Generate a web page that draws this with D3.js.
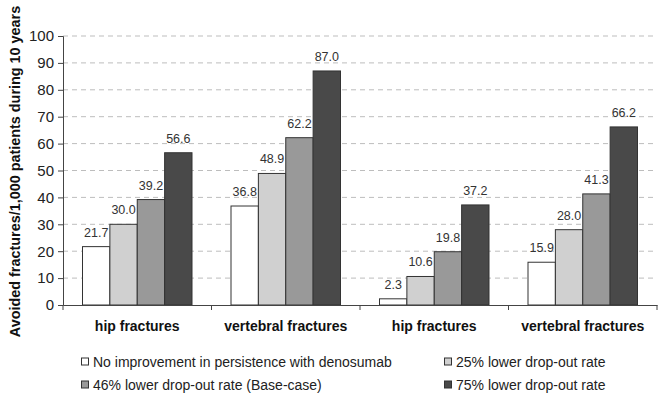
<!DOCTYPE html>
<html><head><meta charset="utf-8">
<script src="https://cdn.jsdelivr.net/npm/d3@7"></script>
<style>body{margin:0;background:#fff}svg{display:block}text{font-family:"Liberation Sans",Arial,sans-serif}</style>
</head><body><svg id="c" width="666" height="401"></svg>
<script>
const categories = ["hip fractures", "vertebral fractures", "hip fractures ", "vertebral fractures "];
const seriesNames = ["No improvement in persistence with denosumab", "25% lower drop-out rate", "46% lower drop-out rate (Base-case)", "75% lower drop-out rate"];
const noImprovement = [21.7, 36.8, 2.3, 15.9];
const lower25 = [30.0, 48.9, 10.6, 28.0];
const lower46 = [39.2, 62.2, 19.8, 41.3];
const lower75 = [56.6, 87.0, 37.2, 66.2];
const yTicks = [0, 10, 20, 30, 40, 50, 60, 70, 80, 90, 100];
const colors = ["#ffffff", "#d0d0d0", "#999999", "#494949"];
const yLabel = "Avoided fractures/1,000 patients during 10 years";

const series = [noImprovement, lower25, lower46, lower75];
const svg = d3.select("#c");
const m = {l: 63, r: 9, t: 36, b: 96};
const W = 666, H = 401;
const x0 = d3.scaleBand().domain(categories).range([m.l, W - m.r]).padding(0);
const pad = 19.5;
const x1 = d3.scaleBand().domain(d3.range(4)).range([pad, x0.bandwidth() - pad]).padding(0);
const y = d3.scaleLinear().domain([0, 100]).range([H - m.b, m.t]);

// gridlines
svg.append("g").selectAll("line").data(yTicks.filter(d => d > 0)).join("line")
  .attr("x1", m.l).attr("x2", W - m.r)
  .attr("y1", d => y(d)).attr("y2", d => y(d))
  .attr("stroke", "#bdbdbd").attr("stroke-dasharray", "5,4").attr("stroke-width", 1);

// y axis
const yAxis = d3.axisLeft(y).tickValues(yTicks).tickSize(5).tickPadding(4).tickFormat(d3.format("d"));
const gy = svg.append("g").attr("transform", `translate(${m.l},0)`).call(yAxis);
gy.select(".domain").attr("stroke", "#444");
gy.selectAll(".tick line").attr("stroke", "#444");
gy.selectAll("text").attr("font-size", 15).attr("fill", "#222");

// bars
const groups = svg.append("g").selectAll("g").data(categories).join("g")
  .attr("transform", d => `translate(${x0(d)},0)`);
groups.each(function(cat, ci) {
  const g = d3.select(this);
  series.forEach((s, si) => {
    g.append("rect")
      .attr("x", x1(si)).attr("width", x1.bandwidth())
      .attr("y", y(s[ci])).attr("height", y(0) - y(s[ci]))
      .attr("fill", colors[si]).attr("stroke", "#333").attr("stroke-width", 1);
    g.append("text")
      .attr("x", x1(si) + x1.bandwidth() / 2).attr("y", y(s[ci]) - 10)
      .attr("text-anchor", "middle").attr("font-size", 12.5).attr("fill", "#333")
      .text(s[ci].toFixed(1));
  });
});

// x axis
const xAxis = d3.axisBottom(x0).tickSize(0).tickFormat("");
const gx = svg.append("g").attr("transform", `translate(0,${y(0)})`).call(xAxis);
gx.select(".domain").attr("stroke", "#444");
const bounds = [m.l].concat(categories.map(c => x0(c) + x0.bandwidth()));
svg.append("g").selectAll("line").data(bounds).join("line")
  .attr("x1", d => d).attr("x2", d => d).attr("y1", y(0)).attr("y2", y(0) + 5).attr("stroke", "#444");
svg.append("g").selectAll("text").data(categories).join("text")
  .attr("x", d => x0(d) + x0.bandwidth() / 2).attr("y", y(0) + 26)
  .attr("text-anchor", "middle").attr("font-size", 14).attr("font-weight", "bold").attr("fill", "#111")
  .text(d => d.trim());

// y label
svg.append("text")
  .attr("transform", `translate(20,171.5) rotate(-90)`)
  .attr("text-anchor", "middle").attr("font-size", 14.4).attr("font-weight", "bold").attr("fill", "#111")
  .text(yLabel);

// legend
const legPos = [[81, 366.5], [444, 366.5], [81, 389.5], [444, 389.5]];
const lg = svg.append("g").selectAll("g").data(seriesNames).join("g")
  .attr("transform", (d, i) => `translate(${legPos[i][0]},${legPos[i][1]})`);
lg.append("rect").attr("x", 0.5).attr("y", -8.5).attr("width", 7).attr("height", 7)
  .attr("fill", (d, i) => colors[i]).attr("stroke", "#333");
lg.append("text").attr("x", 12).attr("y", 0).attr("font-size", 14).attr("fill", "#222").text(d => d);
</script></body></html>
